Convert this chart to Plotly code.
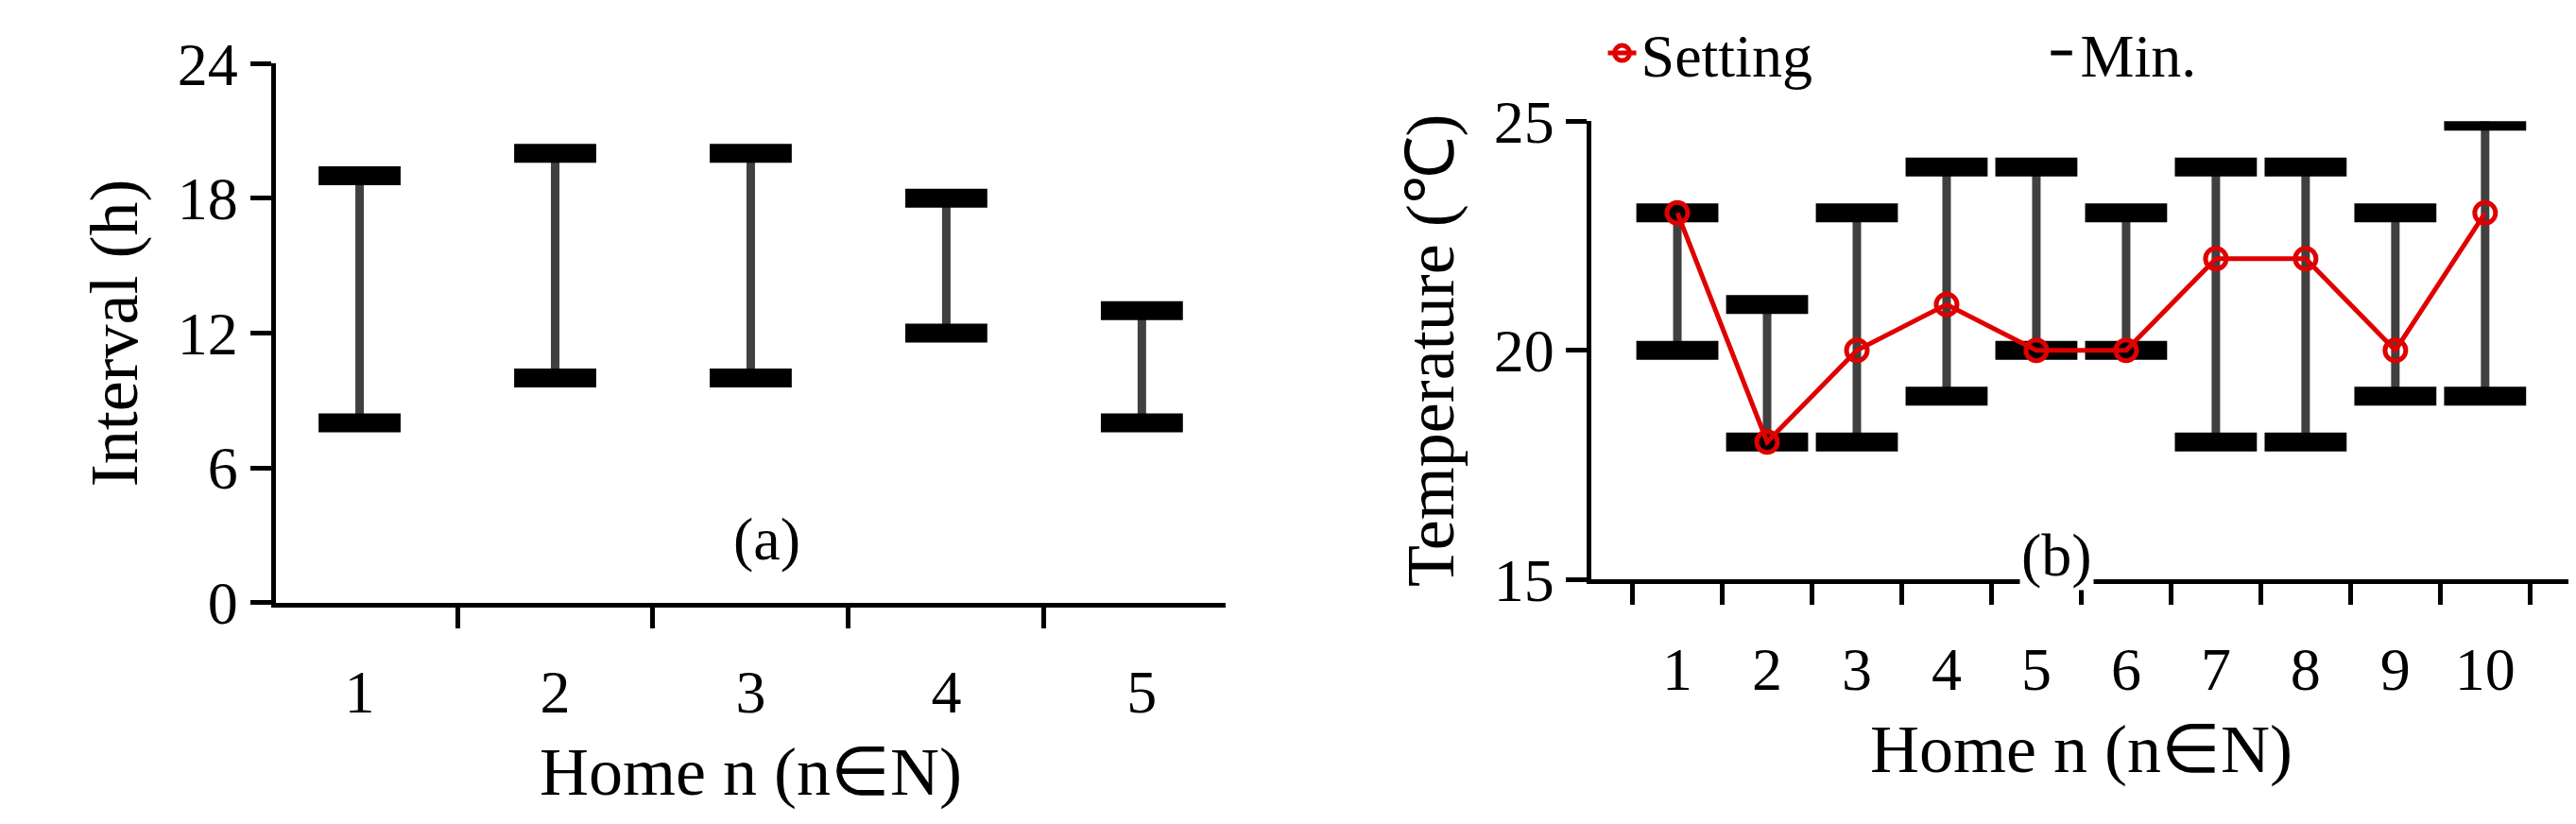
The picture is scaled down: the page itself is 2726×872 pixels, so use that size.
import plotly.graph_objects as go

homes_a = ["1", "2", "3", "4", "5"]
min_a = [8, 10, 10, 12, 8]
max_a = [19, 20, 20, 18, 13]

homes_b = ["1", "2", "3", "4", "5", "6", "7", "8", "9", "10"]
min_b = [20, 18, 18, 19, 20, 20, 18, 18, 19, 19]
max_b = [23, 21, 23, 24, 24, 23, 24, 24, 23, 25]
setting_b = [23, 18, 20, 21, 20, 20, 22, 22, 20, 23]

FONT = "Liberation Serif"
fig = go.Figure()

def ranges(homes, lo, hi, xa, ya):
    xs, ys = [], []
    for h, a, b in zip(homes, lo, hi):
        xs += [h, h, None]
        ys += [a, b, None]
    fig.add_trace(go.Scatter(x=xs, y=ys, mode="lines", line=dict(color="#404040", width=9),
                             xaxis=xa, yaxis=ya, showlegend=False, hoverinfo="skip"))
    fig.add_trace(go.Scatter(x=homes + homes, y=list(hi) + list(lo), mode="markers",
                             marker=dict(symbol="line-ew", size=62, line=dict(width=20, color="black")),
                             xaxis=xa, yaxis=ya, name="Min.", showlegend=False))

ranges(homes_a, min_a, max_a, "x", "y")
ranges(homes_b, min_b, max_b, "x2", "y2")
fig.add_trace(go.Scatter(x=homes_b, y=setting_b, mode="lines+markers", name="Setting",
                         line=dict(color="#e00000", width=5),
                         marker=dict(symbol="circle-open", size=22, color="#e00000", line=dict(width=5)),
                         xaxis="x2", yaxis="y2"))
fig.add_trace(go.Scatter(x=[None], y=[None], mode="markers", name="Min.",
                         marker=dict(symbol="line-ew", size=50, line=dict(width=20, color="black")),
                         xaxis="x2", yaxis="y2"))

ax = dict(showline=True, linecolor="black", linewidth=5, ticks="outside", ticklen=22, tickwidth=5,
          tickcolor="black", showgrid=False, zeroline=False, automargin=False,
          tickfont=dict(family=FONT, size=64, color="black"))
fig.update_layout(
    width=2726, height=872, paper_bgcolor="white", plot_bgcolor="white",
    margin=dict(l=0, r=0, t=0, b=0, autoexpand=False),
    font=dict(family=FONT, color="black"),
    xaxis=dict(ax, domain=[0.104, 0.473], type="category", tickson="boundaries", ticklabelstandoff=35,
               anchor="y", title=dict(text="Home n (n∈N)", font=dict(size=72), standoff=25)),
    yaxis=dict(ax, domain=[0.278, 0.932], range=[0, 24], tickvals=[0, 6, 12, 18, 24], anchor="x",
               title=dict(text="Interval (h)", font=dict(size=72), standoff=20)),
    xaxis2=dict(ax, domain=[0.615, 0.995], type="category", tickson="boundaries", ticklabelstandoff=35,
                anchor="y2", title=dict(text="Home n (n∈N)", font=dict(size=72), standoff=25)),
    yaxis2=dict(ax, domain=[0.306, 0.862], range=[15, 25], tickvals=[15, 20, 25], anchor="x2",
                title=dict(text="Temperature (℃)", font=dict(size=72), standoff=20)),
    legend=dict(orientation="h", x=0.79, y=1.0, xanchor="center", yanchor="top",
                font=dict(family=FONT, size=64), bgcolor="rgba(0,0,0,0)", entrywidth=420),
    annotations=[
        dict(text="(a)", x=0.281, y=0.355, xref="paper", yref="paper", showarrow=False,
             font=dict(family=FONT, size=64)),
        dict(text="(b)", x=0.81, y=0.335, xref="paper", yref="paper", showarrow=False,
             font=dict(family=FONT, size=64), bgcolor="white"),
    ],
)
fig.write_html("out.html")
